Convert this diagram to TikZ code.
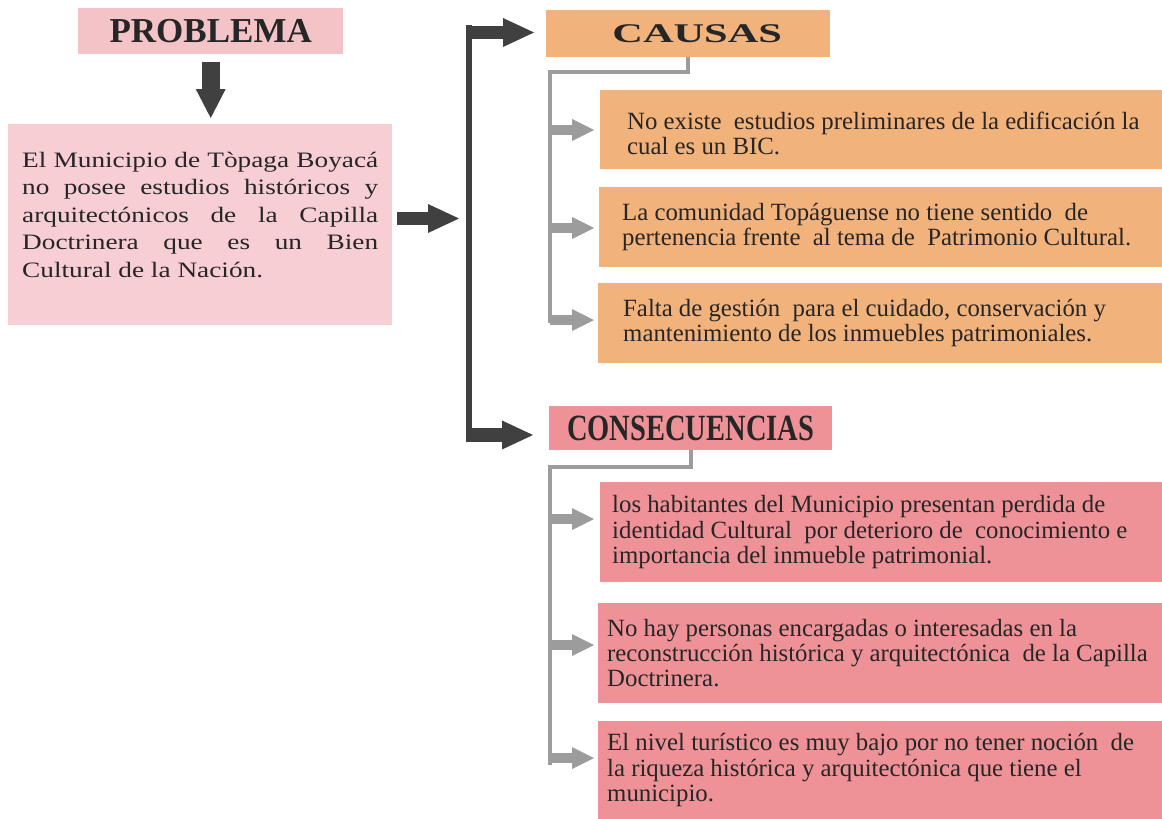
\documentclass[tikz,border=0pt]{standalone}
\usepackage{fontspec}
\setmainfont{Liberation Serif}
\newfontfamily\probfont{Liberation Serif}[FakeStretch=1.24]
\newfontfamily\causafont{Liberation Serif}[FakeStretch=1.57]
\newfontfamily\consfont{Liberation Serif}[FakeStretch=0.77]
\usetikzlibrary{arrows.meta}
\definecolor{darkc}{HTML}{404040}
\definecolor{gryc}{HTML}{9C9C9C}
\definecolor{orc}{HTML}{F2B27C}
\definecolor{pkc}{HTML}{EF9298}
\definecolor{phc}{HTML}{F4C3C8}
\definecolor{pbc}{HTML}{F7CED3}
\definecolor{txt}{HTML}{262626}
\newcommand\mybxt[3]{\hspace*{#1}\parbox[c]{#2}{\raggedright #3}}
\tikzset{
  txtbox/.style={anchor=north west, inner sep=0pt, text=txt, font=\fontsize{24.8}{25.2}\selectfont},
  orbox/.style={txtbox, fill=orc},
  pkbox/.style={txtbox, fill=pkc},
  darkline/.style={draw=darkc, line width=6pt},
  darkarrow/.style={draw=darkc, line width=13pt, -{Triangle[length=31pt,width=29pt,line width=0pt]}},
  downarrow/.style={draw=darkc, line width=18pt, -{Triangle[length=29pt,width=30pt,line width=0pt]}},
  grayline/.style={draw=gryc, line width=4pt},
  grayarrow/.style={draw=gryc, line width=10pt, -{Triangle[length=22pt,width=22pt,line width=0pt]}},
}
\begin{document}
\begin{tikzpicture}[x=1pt,y=-1pt]
\useasboundingbox (0,0) rectangle (1162,819);

% problem column
\node[fill=phc, minimum width=265pt, minimum height=46pt, inner sep=0pt, anchor=north west, text=txt]
  (ph) at (78,8) {\raisebox{-2pt}{\fontsize{35}{35}\selectfont\bfseries PROBLEMA}};
\node[fill=pbc, minimum width=384pt, minimum height=201pt, inner sep=0pt, anchor=north west, text=txt]
  (prob) at (8,124) {\parbox[c]{356pt}{\probfont\fontsize{22}{27.5}\selectfont
  \makebox[356pt][s]{El Municipio de Tòpaga Boyacá}\\
  \makebox[356pt][s]{no posee estudios históricos y}\\
  \makebox[356pt][s]{arquitectónicos de la Capilla}\\
  \makebox[356pt][s]{Doctrinera que es un Bien}\\
  Cultural de la Nación.\par\vspace{20pt}}};

% headers
\node[fill=orc, minimum width=284pt, minimum height=47pt, inner sep=0pt, anchor=north west, text=txt]
  (causas) at (546,10) {\hspace*{18pt}\causafont\bfseries\fontsize{27}{27}\selectfont CAUSAS};
\node[fill=pkc, minimum width=283pt, minimum height=44pt, inner sep=0pt, anchor=north west, text=txt]
  (cons) at (549,406) {\consfont\bfseries\fontsize{37}{37}\selectfont CONSECUENCIAS};

% causes
\node[orbox, minimum width=562pt, minimum height=79pt] (c1) at (600,90)
  {\mybxt{27pt}{535pt}{\vspace*{8pt}No existe\ \ estudios preliminares de la edificación la\\cual es un BIC.}};
\node[orbox, minimum width=563pt, minimum height=80pt] (c2) at (599,187)
  {\mybxt{23pt}{540pt}{La comunidad Topáguense no tiene sentido\ \ de\\pertenencia frente\ \ al tema de\ \ Patrimonio Cultural.}};
\node[orbox, minimum width=564pt, minimum height=80pt] (c3) at (598,283)
  {\mybxt{25pt}{539pt}{Falta de gestión\ \ para el cuidado, conservación y\\mantenimiento de los inmuebles patrimoniales.}};

% consequences
\node[pkbox, minimum width=562pt, minimum height=100pt] (k1) at (600,482)
  {\mybxt{12pt}{550pt}{los habitantes del Municipio presentan perdida de\\identidad Cultural\ \ por deterioro de\ \ conocimiento e\\importancia del inmueble patrimonial.}};
\node[pkbox, minimum width=564pt, minimum height=100pt] (k2) at (598,603)
  {\mybxt{9pt}{555pt}{No hay personas encargadas o interesadas en la\\reconstrucción histórica y arquitectónica\ \ de la Capilla\\Doctrinera.}};
\node[pkbox, minimum width=564pt, minimum height=98pt] (k3) at (598,721)
  {\mybxt{9pt}{555pt}{El nivel turístico es muy bajo por no tener noción\ \ de\\la riqueza histórica y arquitectónica que tiene el\\municipio.}};

% dark connectors
\draw[downarrow, shorten <=8pt, shorten >=6pt] (ph.south) -- (ph.south |- prob.north);
\coordinate (jn) at (459,218.5);
\draw[darkarrow, shorten <=5pt] (prob.east |- jn) -- (jn);
\coordinate (busTop) at (469,25);
\coordinate (busBot) at (469,442);
\draw[darkline] (busTop) -- (busBot);
\coordinate (ta) at (469,32.5);
\draw[darkarrow, shorten >=12pt] (ta) -- (ta -| causas.west);
\coordinate (ba) at (469,435);
\draw[darkarrow, line width=14pt, shorten >=16pt] (ba) -- (ba -| cons.west);

% gray connectors (causes)
\coordinate (cb) at (550,323);
\draw[grayline] (causas.south) -- ++(0,15) -| (cb);
\coordinate (ca1) at (550,130);
\coordinate (ca2) at (550,228);
\coordinate (ca3) at (550,320);
\draw[grayarrow, shorten >=6pt] (ca1) -- (ca1 -| c1.west);
\draw[grayarrow, shorten >=5pt] (ca2) -- (ca2 -| c2.west);
\draw[grayarrow, shorten >=4pt] (ca3) -- (ca3 -| c3.west);

% gray connectors (consequences)
\coordinate (kb) at (550,765);
\draw[grayline] (cons.south) -- ++(0,17) -| (kb);
\coordinate (ka1) at (550,519);
\coordinate (ka2) at (550,645);
\coordinate (ka3) at (550,758);
\draw[grayarrow, shorten >=6pt] (ka1) -- (ka1 -| k1.west);
\draw[grayarrow, shorten >=4pt] (ka2) -- (ka2 -| k2.west);
\draw[grayarrow, shorten >=4pt] (ka3) -- (ka3 -| k3.west);
\end{tikzpicture}
\end{document}
